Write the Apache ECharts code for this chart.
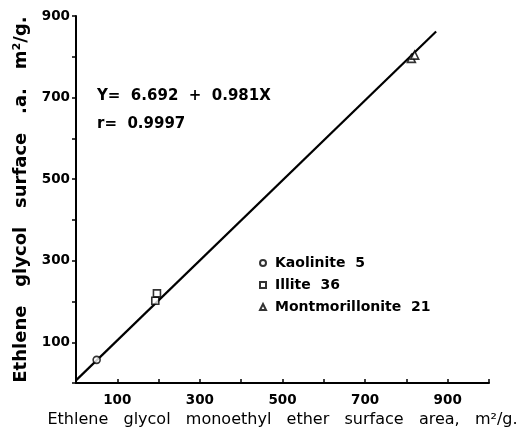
<!DOCTYPE html>
<html>
<head>
<meta charset="utf-8">
<script src="https://cdn.jsdelivr.net/npm/echarts@6/dist/echarts.min.js"></script>
<style>html,body{margin:0;padding:0;background:#fff;}#c{width:521px;height:433px;}</style>
</head>
<body>
<div id="c"></div>
<script>
// ---- data ----
var kaolinite = [[50, 57]];
var illite = [[192, 202], [196, 220]];
var montmorillonite = [[812, 796], [820, 804]];
var fitCoef = [6.692, 0.981];      // intercept, slope
var fitRange = [0, 872];           // x extent of fitted line
var xTickLabels = [100, 300, 500, 700, 900];
var yTickLabels = [100, 300, 500, 700, 900];
var seriesNames = ['Kaolinite  5', 'Illite  36', 'Montmorillonite  21'];
var eqText = ['Y=  6.692  +  0.981X', 'r=  0.9997'];

var fitLine = fitRange.map(function (x) { return [x, fitCoef[0] + fitCoef[1] * x]; });

var FONT = 'DejaVu Sans';
var chart = echarts.init(document.getElementById('c'));
var markStyle = { color: '#fff', borderColor: '#000', borderWidth: 1.6 };

chart.setOption({
  backgroundColor: '#fff',
  animation: false,
  grid: { left: 76, right: 32, top: 16, bottom: 47 },
  xAxis: {
    type: 'value', min: 0, max: 1000, interval: 100,
    name: 'Ethlene   glycol   monoethyl   ether   surface   area,   m\u00b2/g.',
    nameLocation: 'middle', nameGap: 27,
    nameTextStyle: { fontFamily: FONT, fontSize: 16, color: '#000', fontWeight: 'normal', align: 'center' },
    axisLine: { lineStyle: { color: '#000', width: 2 } },
    axisTick: { inside: true, length: 4, lineStyle: { color: '#000', width: 1.5 } },
    splitLine: { show: false },
    axisLabel: {
      fontFamily: FONT, fontSize: 13.5, fontWeight: 'bold', color: '#000', margin: 10,
      formatter: function (v) { return xTickLabels.indexOf(v) >= 0 ? String(v) : ''; }
    }
  },
  yAxis: {
    type: 'value', min: 0, max: 900, interval: 100,
    name: 'Ethlene   glycol   surface   .a.   m\u00b2/g.',
    nameLocation: 'middle', nameGap: 46, nameRotate: 90,
    nameTextStyle: { fontFamily: FONT, fontSize: 18, color: '#000', fontWeight: 'bold' },
    axisLine: { lineStyle: { color: '#000', width: 2 } },
    axisTick: { length: 4, lineStyle: { color: '#000', width: 1.5 } },
    splitLine: { show: false },
    axisLabel: {
      fontFamily: FONT, fontSize: 13.5, fontWeight: 'bold', color: '#000', margin: 6,
      formatter: function (v) { return yTickLabels.indexOf(v) >= 0 ? String(v) : ''; }
    }
  },
  legend: {
    orient: 'vertical', left: 254, top: 251, itemGap: 8,
    itemWidth: 6, itemHeight: 6,
    data: [
      { name: seriesNames[0], icon: 'circle' },
      { name: seriesNames[1], icon: 'rect' },
      { name: seriesNames[2], icon: 'triangle' }
    ],
    textStyle: { fontFamily: FONT, fontSize: 14, fontWeight: 'bold', color: '#000', padding: [0, 0, 0, 4] }
  },
  graphic: [
    { type: 'text', left: 97, top: 89, style: { text: eqText[0], font: 'bold 15px "DejaVu Sans"', fill: '#000' } },
    { type: 'text', left: 97, top: 117, style: { text: eqText[1], font: 'bold 15px "DejaVu Sans"', fill: '#000' } }
  ],
  series: [
    { name: 'fit', type: 'line', data: fitLine, showSymbol: false, symbol: 'none',
      lineStyle: { color: '#000', width: 2.2 }, z: 1, silent: true },
    { name: seriesNames[0], type: 'scatter', data: kaolinite, symbol: 'circle', symbolSize: 7, itemStyle: markStyle, z: 3 },
    { name: seriesNames[1], type: 'scatter', data: illite, symbol: 'rect', symbolSize: 7, itemStyle: markStyle, z: 3 },
    { name: seriesNames[2], type: 'scatter', data: montmorillonite, symbol: 'triangle', symbolSize: 8, itemStyle: markStyle, z: 3 }
  ]
});
</script>
</body>
</html>
